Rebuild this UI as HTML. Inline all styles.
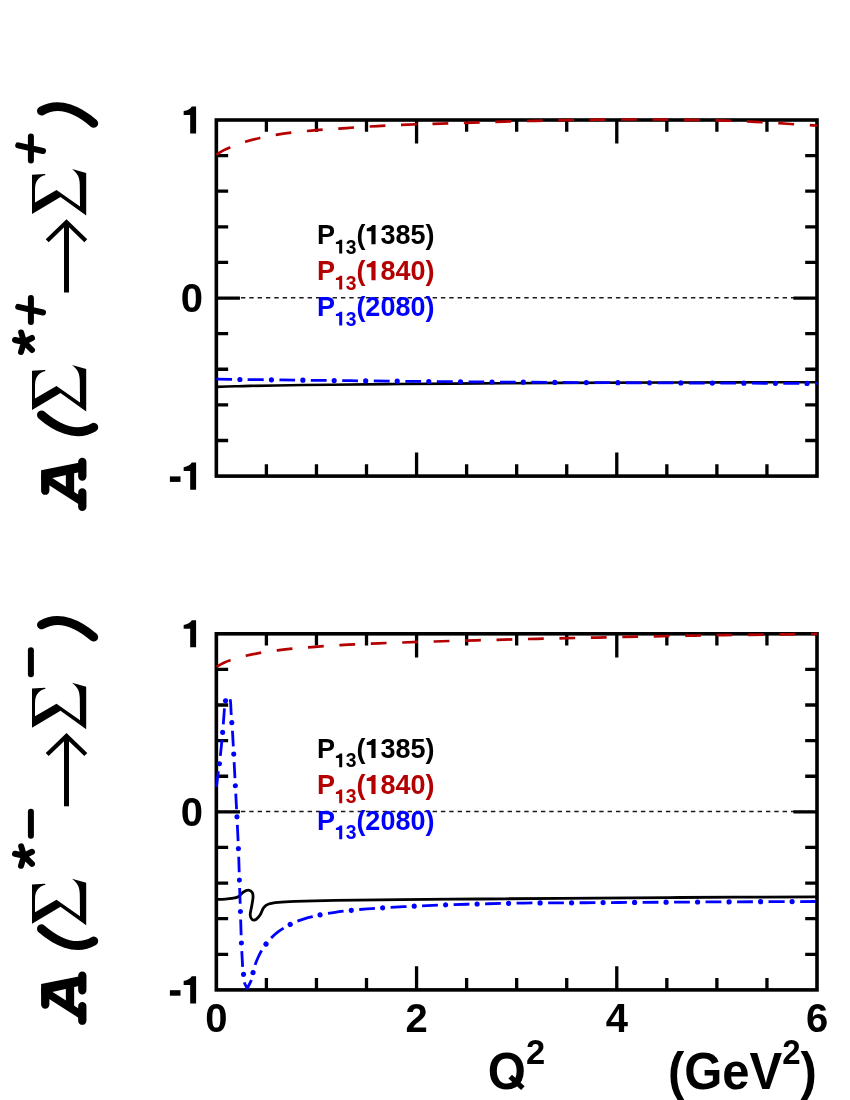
<!DOCTYPE html>
<html><head><meta charset="utf-8"><title>plot</title>
<style>html,body{margin:0;padding:0;background:#fff;overflow:hidden;}svg{display:block;will-change:transform;}text{font-family:"Liberation Sans",sans-serif;font-weight:bold;}</style></head><body>
<svg width="850" height="1100" viewBox="0 0 850 1100">
<rect width="850" height="1100" fill="#fff"/>
<line x1="215.95" y1="297.75" x2="817.00" y2="297.75" stroke="#1a1a1a" stroke-width="1.4" stroke-dasharray="4.4 3.933"/>
<rect x="216.35" y="120.00" width="600.65" height="356.10" fill="none" stroke="#000" stroke-width="3.60"/>
<path d="M266.40 120.00 v11.80 M266.40 476.10 v-11.80 M316.46 120.00 v11.80 M316.46 476.10 v-11.80 M366.51 120.00 v11.80 M366.51 476.10 v-11.80 M416.57 120.00 v23.60 M416.57 476.10 v-23.60 M466.62 120.00 v11.80 M466.62 476.10 v-11.80 M516.67 120.00 v11.80 M516.67 476.10 v-11.80 M566.73 120.00 v11.80 M566.73 476.10 v-11.80 M616.78 120.00 v23.60 M616.78 476.10 v-23.60 M666.84 120.00 v11.80 M666.84 476.10 v-11.80 M716.89 120.00 v11.80 M716.89 476.10 v-11.80 M766.95 120.00 v11.80 M766.95 476.10 v-11.80 M216.35 155.61 h11.80 M817.00 155.61 h-11.80 M216.35 191.22 h11.80 M817.00 191.22 h-11.80 M216.35 226.83 h11.80 M817.00 226.83 h-11.80 M216.35 262.44 h11.80 M817.00 262.44 h-11.80 M216.35 298.05 h23.60 M817.00 298.05 h-23.60 M216.35 333.66 h11.80 M817.00 333.66 h-11.80 M216.35 369.27 h11.80 M817.00 369.27 h-11.80 M216.35 404.88 h11.80 M817.00 404.88 h-11.80 M216.35 440.49 h11.80 M817.00 440.49 h-11.80 " stroke="#000" stroke-width="3.30" fill="none"/>
<path d="M196.10 106.45 L196.10 133.55 L190.18 133.55 L190.18 114.99 L183.66 114.99 L183.66 111.11 Q189.49 110.24 191.79 106.45 Z" fill="#000"/>
<text x="202.9" y="312.05" font-size="40" text-anchor="end">0</text>
<path d="M196.10 462.55 L196.10 489.65 L190.18 489.65 L190.18 471.09 L183.66 471.09 L183.66 467.21 Q189.49 466.34 191.79 462.55 Z" fill="#000"/>
<rect x="169.9" y="476.40" width="10.6" height="5.5" fill="#000"/>
<text transform="translate(316.90 244.30) scale(1 1.040)" font-size="27.00" fill="#000">P</text>
<path d="M342.20 239.76 L342.20 253.50 L339.20 253.50 L339.20 244.09 L335.90 244.09 L335.90 242.12 Q338.85 241.68 340.02 239.76 Z" fill="#000"/>
<text transform="translate(345.64 253.50) scale(1 1.040)" font-size="19.30" fill="#000">3</text>
<text transform="translate(356.38 244.30) scale(1 1.040)" font-size="27.00" fill="#000">(</text>
<path d="M375.57 225.08 L375.57 244.30 L371.38 244.30 L371.38 231.13 L366.75 231.13 L366.75 228.38 Q370.88 227.77 372.52 225.08 Z" fill="#000"/>
<text transform="translate(380.38 244.30) scale(1 1.040)" font-size="27.00" fill="#000">385)</text>
<text transform="translate(316.90 280.30) scale(1 1.040)" font-size="27.00" fill="#b40000">P</text>
<path d="M342.20 275.76 L342.20 289.50 L339.20 289.50 L339.20 280.09 L335.90 280.09 L335.90 278.12 Q338.85 277.68 340.02 275.76 Z" fill="#b40000"/>
<text transform="translate(345.64 289.50) scale(1 1.040)" font-size="19.30" fill="#b40000">3</text>
<text transform="translate(356.38 280.30) scale(1 1.040)" font-size="27.00" fill="#b40000">(</text>
<path d="M375.57 261.08 L375.57 280.30 L371.38 280.30 L371.38 267.13 L366.75 267.13 L366.75 264.38 Q370.88 263.77 372.52 261.08 Z" fill="#b40000"/>
<text transform="translate(380.38 280.30) scale(1 1.040)" font-size="27.00" fill="#b40000">840)</text>
<text transform="translate(316.90 316.30) scale(1 1.040)" font-size="27.00" fill="#0000ff">P</text>
<path d="M342.20 311.76 L342.20 325.50 L339.20 325.50 L339.20 316.09 L335.90 316.09 L335.90 314.12 Q338.85 313.68 340.02 311.76 Z" fill="#0000ff"/>
<text transform="translate(345.64 325.50) scale(1 1.040)" font-size="19.30" fill="#0000ff">3</text>
<text transform="translate(356.38 316.30) scale(1 1.040)" font-size="27.00" fill="#0000ff">(2080)</text>
<g transform="translate(0 0.00)">
<path d="M41.1 470.2 L80 462.4 L80 471.9 L41.1 480.6 Z" fill="#000"/>
<path d="M45 478.0 L82 501.6" stroke="#000" stroke-width="7.8" fill="none"/>
<path d="M70 470 L70 494" stroke="#000" stroke-width="8.3" fill="none"/>
<path d="M45.25 476 L45.25 490.7 M82.3 461.9 L82.3 476.5 M82.3 492.4 L82.3 506.9" stroke="#000" stroke-width="8.3" stroke-linecap="round" fill="none"/>
<path d="M41.5 415.0 C55.2 426.8 75.2 438.0 93.7 427.3" fill="none" stroke="#000" stroke-width="9" stroke-linecap="round"/>
<path d="M32 410 L32 370.8 L45 370 L45.5 371 Q40 372 36.8 377 Q35 380 35 386 L35 398.5 L56.5 386 L80 402.5 L79.8 381 C79.8 374 78 369.5 72 365 L86.2 369 L86.2 411.5 L60.5 393 Z" fill="#000"/>
<path d="M32 410 L32 370.8 L45 370 L45.5 371 Q40 372 36.8 377 Q35 380 35 386 L35 398.5 L56.5 386 L80 402.5 L79.8 381 C79.8 374 78 369.5 72 365 L86.2 369 L86.2 411.5 L60.5 393 Z" fill="#000" transform="translate(0 -196)"/>
<path d="M24 342 L21.2 332.5 M24 342 L15 340 M24 342 L32 338 M24 342 L21 352 M24 342 L32 350" fill="none" stroke="#000" stroke-width="6" stroke-linecap="round"/>
<path d="M30.9 298.00 L30.9 322.00 M18.2 306.80 L43 312.50" fill="none" stroke="#000" stroke-width="6" stroke-linecap="round"/>
<path d="M30.9 136.50 L30.9 160.50 M18.2 145.30 L43 151.00" fill="none" stroke="#000" stroke-width="6" stroke-linecap="round"/>
<path d="M66.5 292.5 L66.5 224" fill="none" stroke="#000" stroke-width="5"/>
<path d="M47.2 240.8 L66.5 222.1 L85.8 240.8" fill="none" stroke="#000" stroke-width="4.2" stroke-linejoin="miter" stroke-miterlimit="10"/>
<path d="M93.7 123.3 C80 111.5 60 100.3 41.5 111" fill="none" stroke="#000" stroke-width="9" stroke-linecap="round"/>
</g>
<path d="M216.40 386.90 C219.50 386.80 229.40 386.47 235.00 386.30 C240.60 386.13 240.83 386.08 250.00 385.90 C259.17 385.72 276.67 385.40 290.00 385.20 C303.33 385.00 311.67 384.90 330.00 384.70 C348.33 384.50 375.00 384.22 400.00 384.00 C425.00 383.78 453.33 383.58 480.00 383.40 C506.67 383.22 526.67 383.05 560.00 382.90 C593.33 382.75 637.17 382.62 680.00 382.50 C722.83 382.38 794.17 382.25 817.00 382.20" fill="none" stroke="#000" stroke-width="2.6"/>
<path d="M216.40 154.60 C217.50 153.93 220.73 151.80 223.00 150.60 C225.27 149.40 226.27 148.88 230.00 147.40 C233.73 145.92 240.33 143.28 245.40 141.70 C250.47 140.12 255.30 139.05 260.40 137.90 C265.50 136.75 270.85 135.68 276.00 134.80 C281.15 133.92 286.13 133.23 291.30 132.60 C296.47 131.97 301.72 131.50 307.00 131.00 C312.28 130.50 317.67 130.00 323.00 129.60 C328.33 129.20 333.83 128.95 339.00 128.60 C344.17 128.25 348.83 127.85 354.00 127.50 C359.17 127.15 364.78 126.82 370.00 126.50 C375.22 126.18 380.07 125.87 385.30 125.60 C390.53 125.33 395.98 125.13 401.40 124.90 C406.82 124.67 412.53 124.38 417.80 124.20 C423.07 124.02 427.80 123.95 433.00 123.80 C438.20 123.65 443.77 123.47 449.00 123.30 C454.23 123.13 459.15 122.97 464.40 122.80 C469.65 122.63 475.23 122.45 480.50 122.30 C485.77 122.15 490.75 122.05 496.00 121.90 C501.25 121.75 506.77 121.55 512.00 121.40 C517.23 121.25 522.15 121.13 527.40 121.00 C532.65 120.87 538.23 120.72 543.50 120.60 C548.77 120.48 553.75 120.40 559.00 120.30 C564.25 120.20 569.83 120.08 575.00 120.00 C580.17 119.92 584.75 119.87 590.00 119.80 C595.25 119.73 601.17 119.65 606.50 119.60 C611.83 119.55 616.75 119.52 622.00 119.50 C627.25 119.48 632.75 119.50 638.00 119.50 C643.25 119.50 648.33 119.48 653.50 119.50 C658.67 119.52 663.75 119.55 669.00 119.60 C674.25 119.65 679.73 119.73 685.00 119.80 C690.27 119.87 695.40 119.92 700.60 120.00 C705.80 120.08 710.97 120.17 716.20 120.30 C721.43 120.43 726.77 120.60 732.00 120.80 C737.23 121.00 742.30 121.25 747.60 121.50 C752.90 121.75 758.55 122.02 763.80 122.30 C769.05 122.58 773.85 122.87 779.10 123.20 C784.35 123.53 790.10 123.98 795.30 124.30 C800.50 124.62 806.68 124.88 810.30 125.10 C813.92 125.32 815.88 125.52 817.00 125.60" fill="none" stroke="#b40000" stroke-width="2.7" stroke-dasharray="15.8 15.65"/>
<path d="M216.40 379.10 C220.33 379.17 230.90 379.38 240.00 379.50 C249.10 379.62 260.50 379.68 271.00 379.80 C281.50 379.92 289.83 380.05 303.00 380.20 C316.17 380.35 332.83 380.52 350.00 380.70 C367.17 380.88 384.33 381.10 406.00 381.30 C427.67 381.50 455.33 381.72 480.00 381.90 C504.67 382.08 527.33 382.25 554.00 382.40 C580.67 382.55 612.33 382.68 640.00 382.80 C667.67 382.92 693.33 383.00 720.00 383.10 C746.67 383.20 783.83 383.34 800.00 383.40 C816.17 383.46 814.17 383.44 817.00 383.45" fill="none" stroke="#0000ff" stroke-width="2.8" stroke-linejoin="round" stroke-dasharray="15.8 15.7"/>
<path d="M216.40 379.10 C220.33 379.17 230.90 379.38 240.00 379.50 C249.10 379.62 260.50 379.68 271.00 379.80 C281.50 379.92 289.83 380.05 303.00 380.20 C316.17 380.35 332.83 380.52 350.00 380.70 C367.17 380.88 384.33 381.10 406.00 381.30 C427.67 381.50 455.33 381.72 480.00 381.90 C504.67 382.08 527.33 382.25 554.00 382.40 C580.67 382.55 612.33 382.68 640.00 382.80 C667.67 382.92 693.33 383.00 720.00 383.10 C746.67 383.20 783.83 383.34 800.00 383.40 C816.17 383.46 814.17 383.44 817.00 383.45" fill="none" stroke="#0000ff" stroke-width="5.2" stroke-linecap="round" stroke-dasharray="0.01 31.49" stroke-dashoffset="-23.5"/>
<line x1="215.95" y1="811.55" x2="817.00" y2="811.55" stroke="#1a1a1a" stroke-width="1.4" stroke-dasharray="4.4 3.933"/>
<rect x="216.35" y="633.80" width="600.65" height="356.10" fill="none" stroke="#000" stroke-width="3.60"/>
<path d="M266.40 633.80 v11.80 M266.40 989.90 v-11.80 M316.46 633.80 v11.80 M316.46 989.90 v-11.80 M366.51 633.80 v11.80 M366.51 989.90 v-11.80 M416.57 633.80 v23.60 M416.57 989.90 v-23.60 M466.62 633.80 v11.80 M466.62 989.90 v-11.80 M516.67 633.80 v11.80 M516.67 989.90 v-11.80 M566.73 633.80 v11.80 M566.73 989.90 v-11.80 M616.78 633.80 v23.60 M616.78 989.90 v-23.60 M666.84 633.80 v11.80 M666.84 989.90 v-11.80 M716.89 633.80 v11.80 M716.89 989.90 v-11.80 M766.95 633.80 v11.80 M766.95 989.90 v-11.80 M216.35 669.41 h11.80 M817.00 669.41 h-11.80 M216.35 705.02 h11.80 M817.00 705.02 h-11.80 M216.35 740.63 h11.80 M817.00 740.63 h-11.80 M216.35 776.24 h11.80 M817.00 776.24 h-11.80 M216.35 811.85 h23.60 M817.00 811.85 h-23.60 M216.35 847.46 h11.80 M817.00 847.46 h-11.80 M216.35 883.07 h11.80 M817.00 883.07 h-11.80 M216.35 918.68 h11.80 M817.00 918.68 h-11.80 M216.35 954.29 h11.80 M817.00 954.29 h-11.80 " stroke="#000" stroke-width="3.30" fill="none"/>
<path d="M196.10 620.25 L196.10 647.35 L190.18 647.35 L190.18 628.79 L183.66 628.79 L183.66 624.91 Q189.49 624.04 191.79 620.25 Z" fill="#000"/>
<text x="202.9" y="825.85" font-size="40" text-anchor="end">0</text>
<path d="M196.10 976.35 L196.10 1003.45 L190.18 1003.45 L190.18 984.89 L183.66 984.89 L183.66 981.01 Q189.49 980.14 191.79 976.35 Z" fill="#000"/>
<rect x="169.9" y="990.20" width="10.6" height="5.5" fill="#000"/>
<text transform="translate(316.90 758.10) scale(1 1.040)" font-size="27.00" fill="#000">P</text>
<path d="M342.20 753.56 L342.20 767.30 L339.20 767.30 L339.20 757.89 L335.90 757.89 L335.90 755.92 Q338.85 755.48 340.02 753.56 Z" fill="#000"/>
<text transform="translate(345.64 767.30) scale(1 1.040)" font-size="19.30" fill="#000">3</text>
<text transform="translate(356.38 758.10) scale(1 1.040)" font-size="27.00" fill="#000">(</text>
<path d="M375.57 738.88 L375.57 758.10 L371.38 758.10 L371.38 744.93 L366.75 744.93 L366.75 742.18 Q370.88 741.57 372.52 738.88 Z" fill="#000"/>
<text transform="translate(380.38 758.10) scale(1 1.040)" font-size="27.00" fill="#000">385)</text>
<text transform="translate(316.90 794.10) scale(1 1.040)" font-size="27.00" fill="#b40000">P</text>
<path d="M342.20 789.56 L342.20 803.30 L339.20 803.30 L339.20 793.89 L335.90 793.89 L335.90 791.92 Q338.85 791.48 340.02 789.56 Z" fill="#b40000"/>
<text transform="translate(345.64 803.30) scale(1 1.040)" font-size="19.30" fill="#b40000">3</text>
<text transform="translate(356.38 794.10) scale(1 1.040)" font-size="27.00" fill="#b40000">(</text>
<path d="M375.57 774.88 L375.57 794.10 L371.38 794.10 L371.38 780.93 L366.75 780.93 L366.75 778.18 Q370.88 777.57 372.52 774.88 Z" fill="#b40000"/>
<text transform="translate(380.38 794.10) scale(1 1.040)" font-size="27.00" fill="#b40000">840)</text>
<text transform="translate(316.90 830.10) scale(1 1.040)" font-size="27.00" fill="#0000ff">P</text>
<path d="M342.20 825.56 L342.20 839.30 L339.20 839.30 L339.20 829.89 L335.90 829.89 L335.90 827.92 Q338.85 827.48 340.02 825.56 Z" fill="#0000ff"/>
<text transform="translate(345.64 839.30) scale(1 1.040)" font-size="19.30" fill="#0000ff">3</text>
<text transform="translate(356.38 830.10) scale(1 1.040)" font-size="27.00" fill="#0000ff">(2080)</text>
<g transform="translate(0 513.80)">
<path d="M41.1 470.2 L80 462.4 L80 471.9 L41.1 480.6 Z" fill="#000"/>
<path d="M45 478.0 L82 501.6" stroke="#000" stroke-width="7.8" fill="none"/>
<path d="M70 470 L70 494" stroke="#000" stroke-width="8.3" fill="none"/>
<path d="M45.25 476 L45.25 490.7 M82.3 461.9 L82.3 476.5 M82.3 492.4 L82.3 506.9" stroke="#000" stroke-width="8.3" stroke-linecap="round" fill="none"/>
<path d="M41.5 415.0 C55.2 426.8 75.2 438.0 93.7 427.3" fill="none" stroke="#000" stroke-width="9" stroke-linecap="round"/>
<path d="M32 410 L32 370.8 L45 370 L45.5 371 Q40 372 36.8 377 Q35 380 35 386 L35 398.5 L56.5 386 L80 402.5 L79.8 381 C79.8 374 78 369.5 72 365 L86.2 369 L86.2 411.5 L60.5 393 Z" fill="#000"/>
<path d="M32 410 L32 370.8 L45 370 L45.5 371 Q40 372 36.8 377 Q35 380 35 386 L35 398.5 L56.5 386 L80 402.5 L79.8 381 C79.8 374 78 369.5 72 365 L86.2 369 L86.2 411.5 L60.5 393 Z" fill="#000" transform="translate(0 -196)"/>
<path d="M24 342 L21.2 332.5 M24 342 L15 340 M24 342 L32 338 M24 342 L21 352 M24 342 L32 350" fill="none" stroke="#000" stroke-width="6" stroke-linecap="round"/>
<path d="M30.9 298.00 L30.9 322.00" fill="none" stroke="#000" stroke-width="6" stroke-linecap="round"/>
<path d="M30.9 136.50 L30.9 160.50" fill="none" stroke="#000" stroke-width="6" stroke-linecap="round"/>
<path d="M66.5 292.5 L66.5 224" fill="none" stroke="#000" stroke-width="5"/>
<path d="M47.2 240.8 L66.5 222.1 L85.8 240.8" fill="none" stroke="#000" stroke-width="4.2" stroke-linejoin="miter" stroke-miterlimit="10"/>
<path d="M93.7 123.3 C80 111.5 60 100.3 41.5 111" fill="none" stroke="#000" stroke-width="9" stroke-linecap="round"/>
</g>
<path d="M216.40 666.80 C217.50 666.20 220.68 664.30 223.00 663.20 C225.32 662.10 226.47 661.43 230.30 660.20 C234.13 658.97 240.85 657.05 246.00 655.80 C251.15 654.55 255.97 653.60 261.20 652.70 C266.43 651.80 272.20 651.07 277.40 650.40 C282.60 649.73 287.25 649.20 292.40 648.70 C297.55 648.20 303.12 647.82 308.30 647.40 C313.48 646.98 318.22 646.57 323.50 646.20 C328.78 645.83 334.70 645.52 340.00 645.20 C345.30 644.88 350.10 644.57 355.30 644.30 C360.50 644.03 365.97 643.82 371.20 643.60 C376.43 643.38 381.43 643.18 386.70 643.00 C391.97 642.82 397.48 642.68 402.80 642.50 C408.12 642.32 413.37 642.07 418.60 641.90 C423.83 641.73 428.92 641.65 434.20 641.50 C439.48 641.35 445.03 641.15 450.30 641.00 C455.57 640.85 460.62 640.73 465.80 640.60 C470.98 640.47 476.20 640.33 481.40 640.20 C486.60 640.07 491.73 639.93 497.00 639.80 C502.27 639.67 507.75 639.53 513.00 639.40 C518.25 639.27 523.27 639.12 528.50 639.00 C533.73 638.88 539.15 638.82 544.40 638.70 C549.65 638.58 554.83 638.42 560.00 638.30 C565.17 638.18 570.20 638.10 575.40 638.00 C580.60 637.90 585.93 637.80 591.20 637.70 C596.47 637.60 601.70 637.52 607.00 637.40 C612.30 637.28 617.70 637.13 623.00 637.00 C628.30 636.87 633.63 636.72 638.80 636.60 C643.97 636.48 648.85 636.40 654.00 636.30 C659.15 636.20 664.37 636.10 669.70 636.00 C675.03 635.90 680.70 635.78 686.00 635.70 C691.30 635.62 696.27 635.58 701.50 635.50 C706.73 635.42 712.15 635.28 717.40 635.20 C722.65 635.12 727.73 635.07 733.00 635.00 C738.27 634.93 743.72 634.87 749.00 634.80 C754.28 634.73 759.53 634.67 764.70 634.60 C769.87 634.53 774.75 634.47 780.00 634.40 C785.25 634.33 790.90 634.27 796.20 634.20 C801.50 634.13 808.33 634.05 811.80 634.00 C815.27 633.95 816.13 633.92 817.00 633.90" fill="none" stroke="#b40000" stroke-width="2.7" stroke-dasharray="15.8 15.65"/>
<path d="M216.40 899.50 C217.83 899.43 222.40 899.28 225.00 899.10 C227.60 898.92 229.80 898.78 232.00 898.40 C234.20 898.02 236.35 897.83 238.20 896.80 C240.05 895.77 241.38 893.30 243.10 892.20 C244.82 891.10 246.95 890.12 248.50 890.20 C250.05 890.28 251.65 891.40 252.40 892.70 C253.15 894.00 253.15 895.60 253.00 898.00 C252.85 900.40 251.97 904.27 251.50 907.10 C251.03 909.93 250.08 912.92 250.20 915.00 C250.32 917.08 251.18 918.90 252.20 919.60 C253.22 920.30 254.93 920.05 256.30 919.20 C257.67 918.35 259.17 916.43 260.40 914.50 C261.63 912.57 262.32 909.35 263.70 907.60 C265.08 905.85 266.23 904.88 268.70 904.00 C271.17 903.12 274.12 902.73 278.50 902.30 C282.88 901.87 285.58 901.72 295.00 901.40 C304.42 901.08 317.50 900.70 335.00 900.40 C352.50 900.10 375.83 899.83 400.00 899.60 C424.17 899.37 453.33 899.22 480.00 899.00 C506.67 898.78 526.67 898.55 560.00 898.30 C593.33 898.05 637.17 897.75 680.00 897.50 C722.83 897.25 794.17 896.92 817.00 896.80" fill="none" stroke="#000" stroke-width="2.8"/>
<path d="M216.40 787.00 C216.70 784.63 217.58 777.63 218.20 772.80 C218.82 767.97 219.38 764.47 220.10 758.00 C220.82 751.53 221.80 741.92 222.50 734.00 C223.20 726.08 223.83 715.87 224.30 710.50 C224.77 705.13 224.93 703.78 225.30 701.80 C225.67 699.82 226.02 699.35 226.50 698.60 C226.98 697.85 227.65 697.40 228.20 697.30 C228.75 697.20 229.40 697.13 229.80 698.00 C230.20 698.87 230.37 699.78 230.60 702.50 C230.83 705.22 230.90 709.68 231.20 714.30 C231.50 718.92 232.03 724.58 232.40 730.20 C232.77 735.82 232.95 739.53 233.40 748.00 C233.85 756.47 234.55 770.33 235.10 781.00 C235.65 791.67 236.15 800.80 236.70 812.00 C237.25 823.20 237.95 836.95 238.40 848.20 C238.85 859.45 239.07 869.05 239.40 879.50 C239.73 889.95 240.07 900.37 240.40 910.90 C240.73 921.43 241.03 933.50 241.40 942.70 C241.77 951.90 242.25 960.88 242.60 966.10 C242.95 971.32 243.23 971.35 243.50 974.00 C243.77 976.65 243.58 979.62 244.20 982.00 C244.82 984.38 246.70 987.25 247.20 988.30 C247.88 986.95 250.32 982.87 251.30 980.20 C252.28 977.53 252.43 974.95 253.10 972.30 C253.77 969.65 254.43 966.85 255.30 964.30 C256.17 961.75 257.23 959.32 258.30 957.00 C259.37 954.68 260.35 952.63 261.70 950.40 C263.05 948.17 264.78 945.70 266.40 943.60 C268.02 941.50 269.47 939.75 271.40 937.80 C273.33 935.85 275.73 933.65 278.00 931.90 C280.27 930.15 282.92 928.57 285.00 927.30 C287.08 926.03 288.53 925.28 290.50 924.30 C292.47 923.32 294.38 922.35 296.80 921.40 C299.22 920.45 302.12 919.45 305.00 918.60 C307.88 917.75 311.50 916.93 314.10 916.30 C316.70 915.67 317.12 915.47 320.60 914.80 C324.08 914.13 329.87 913.05 335.00 912.30 C340.13 911.55 346.07 910.87 351.40 910.30 C356.73 909.73 361.70 909.32 367.00 908.90 C372.30 908.48 375.35 908.25 383.20 907.80 C391.05 907.35 403.65 906.68 414.10 906.20 C424.55 905.72 435.35 905.27 445.90 904.90 C456.45 904.53 466.90 904.27 477.40 904.00 C487.90 903.73 498.35 903.48 508.90 903.30 C519.45 903.12 530.17 902.98 540.70 902.90 C551.23 902.82 561.63 902.85 572.10 902.80 C582.57 902.75 593.02 902.67 603.50 902.60 C613.98 902.53 624.52 902.47 635.00 902.40 C645.48 902.33 655.98 902.27 666.40 902.20 C676.82 902.13 687.02 902.06 697.50 902.00 C707.98 901.94 718.75 901.90 729.30 901.85 C739.85 901.80 750.32 901.74 760.80 901.70 C771.28 901.66 782.83 901.63 792.20 901.60 C801.57 901.57 812.87 901.52 817.00 901.50" fill="none" stroke="#0000ff" stroke-width="2.8" stroke-linejoin="round" stroke-dasharray="15.8 15.7"/>
<path d="M216.40 787.00 C216.70 784.63 217.58 777.63 218.20 772.80 C218.82 767.97 219.38 764.47 220.10 758.00 C220.82 751.53 221.80 741.92 222.50 734.00 C223.20 726.08 223.83 715.87 224.30 710.50 C224.77 705.13 224.93 703.78 225.30 701.80 C225.67 699.82 226.02 699.35 226.50 698.60 C226.98 697.85 227.65 697.40 228.20 697.30 C228.75 697.20 229.40 697.13 229.80 698.00 C230.20 698.87 230.37 699.78 230.60 702.50 C230.83 705.22 230.90 709.68 231.20 714.30 C231.50 718.92 232.03 724.58 232.40 730.20 C232.77 735.82 232.95 739.53 233.40 748.00 C233.85 756.47 234.55 770.33 235.10 781.00 C235.65 791.67 236.15 800.80 236.70 812.00 C237.25 823.20 237.95 836.95 238.40 848.20 C238.85 859.45 239.07 869.05 239.40 879.50 C239.73 889.95 240.07 900.37 240.40 910.90 C240.73 921.43 241.03 933.50 241.40 942.70 C241.77 951.90 242.25 960.88 242.60 966.10 C242.95 971.32 243.23 971.35 243.50 974.00 C243.77 976.65 243.58 979.62 244.20 982.00 C244.82 984.38 246.70 987.25 247.20 988.30 C247.88 986.95 250.32 982.87 251.30 980.20 C252.28 977.53 252.43 974.95 253.10 972.30 C253.77 969.65 254.43 966.85 255.30 964.30 C256.17 961.75 257.23 959.32 258.30 957.00 C259.37 954.68 260.35 952.63 261.70 950.40 C263.05 948.17 264.78 945.70 266.40 943.60 C268.02 941.50 269.47 939.75 271.40 937.80 C273.33 935.85 275.73 933.65 278.00 931.90 C280.27 930.15 282.92 928.57 285.00 927.30 C287.08 926.03 288.53 925.28 290.50 924.30 C292.47 923.32 294.38 922.35 296.80 921.40 C299.22 920.45 302.12 919.45 305.00 918.60 C307.88 917.75 311.50 916.93 314.10 916.30 C316.70 915.67 317.12 915.47 320.60 914.80 C324.08 914.13 329.87 913.05 335.00 912.30 C340.13 911.55 346.07 910.87 351.40 910.30 C356.73 909.73 361.70 909.32 367.00 908.90 C372.30 908.48 375.35 908.25 383.20 907.80 C391.05 907.35 403.65 906.68 414.10 906.20 C424.55 905.72 435.35 905.27 445.90 904.90 C456.45 904.53 466.90 904.27 477.40 904.00 C487.90 903.73 498.35 903.48 508.90 903.30 C519.45 903.12 530.17 902.98 540.70 902.90 C551.23 902.82 561.63 902.85 572.10 902.80 C582.57 902.75 593.02 902.67 603.50 902.60 C613.98 902.53 624.52 902.47 635.00 902.40 C645.48 902.33 655.98 902.27 666.40 902.20 C676.82 902.13 687.02 902.06 697.50 902.00 C707.98 901.94 718.75 901.90 729.30 901.85 C739.85 901.80 750.32 901.74 760.80 901.70 C771.28 901.66 782.83 901.63 792.20 901.60 C801.57 901.57 812.87 901.52 817.00 901.50" fill="none" stroke="#0000ff" stroke-width="5.2" stroke-linecap="round" stroke-dasharray="0.01 31.49" stroke-dashoffset="-23.5"/>
<text x="216.35" y="1031.6" font-size="40" text-anchor="middle">0</text>
<text x="416.57" y="1031.6" font-size="40" text-anchor="middle">2</text>
<text x="616.78" y="1031.6" font-size="40" text-anchor="middle">4</text>
<text x="817.00" y="1031.6" font-size="40" text-anchor="middle">6</text>
<text transform="translate(487.85 1088.50) scale(1 1.040)" font-size="49.00" fill="#000">O</text>
<text transform="translate(525.96 1063.90) scale(1 1.040)" font-size="34.50" fill="#000">2</text>
<path d="M510.2 1076.6 L522.9 1088.2" stroke="#000" stroke-width="5.2" fill="none"/>
<text transform="translate(667.90 1088.50) scale(1 1.040)" font-size="49.00" fill="#000">(GeV</text>
<text transform="translate(782.27 1064.10) scale(1 1.040)" font-size="33.00" fill="#000">2</text>
<text transform="translate(800.62 1088.50) scale(1 1.040)" font-size="49.00" fill="#000">)</text>
</svg></body></html>
